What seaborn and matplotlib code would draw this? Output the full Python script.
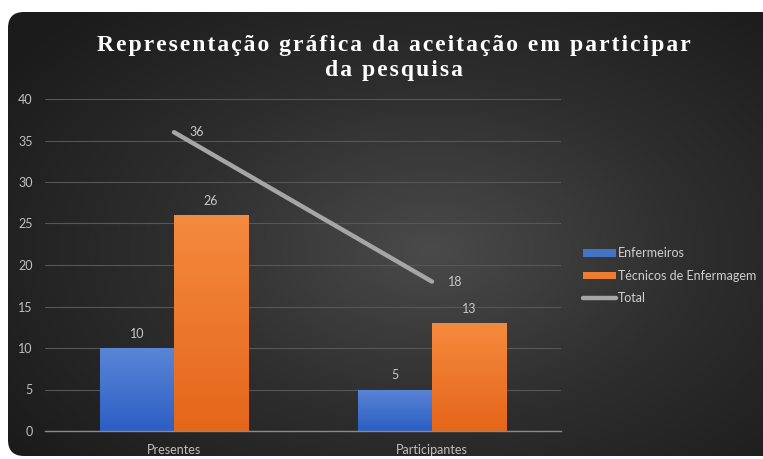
import numpy as np
import pandas as pd
import seaborn as sns
import matplotlib.pyplot as plt
from matplotlib.patches import FancyBboxPatch, Patch
from matplotlib.lines import Line2D
from matplotlib.colors import LinearSegmentedColormap

# === DADOS ===
categorias = ["Presentes", "Participantes"]
enfermeiros = [10, 5]
tecnicos = [26, 13]
total = [36, 18]
series = ["Enfermeiros", "Técnicos de Enfermagem"]
titulo_linhas = ["Representação gráfica da aceitação em participar", "da pesquisa"]

df = pd.DataFrame({
    "Categoria": categorias * 2,
    "Grupo": [series[0]] * len(categorias) + [series[1]] * len(categorias),
    "Valor": enfermeiros + tecnicos,
})

sns.set_style("dark")
plt.rcParams["font.family"] = ["Lato", "DejaVu Sans"]

W, H = 763, 459
fig = plt.figure(figsize=(W / 100, H / 100), dpi=100)
fig.patch.set_facecolor("white")

# fundo escuro com gradiente radial e canto arredondado
bg = fig.add_axes([0, 0, 1, 1], zorder=-2)
bg.set_xlim(0, W)
bg.set_ylim(H, 0)
bg.axis("off")
yy, xx = np.mgrid[0:H, 0:W]
dist = np.sqrt(((xx - 430) / 520) ** 2 + ((yy - 250) / 330) ** 2)
grad = np.clip(1 - dist, 0, 1)
cmap_bg = LinearSegmentedColormap.from_list("bg", ["#1b1b1b", "#2e2e2e", "#4a4a4a"])
img = bg.imshow(grad, cmap=cmap_bg, extent=(0, W, H, 0), aspect="auto")
panel = FancyBboxPatch((8, 12), W + 20, H - 15, boxstyle="round,pad=0,rounding_size=16",
                       transform=bg.transData, facecolor="none", edgecolor="none")
bg.add_patch(panel)
img.set_clip_path(panel)

# eixo principal
ax = fig.add_axes([45 / W, (H - 431) / H, 516 / W, 332 / H])
ax.set_facecolor("none")
sns.barplot(data=df, x="Categoria", y="Valor", hue="Grupo", ax=ax, width=0.574,
            gap=0, palette=["#4472C4", "#ED7D31"], legend=False, saturation=1)

# gradiente nas barras
cores = {0: ("#5a85d6", "#2c5fc4"), 1: ("#f48a3e", "#e5661a")}
for i, cont in enumerate(ax.containers):
    cm = LinearSegmentedColormap.from_list(f"b{i}", [cores[i][1], cores[i][0]])
    for p in cont.patches:
        x0, w, h = p.get_x(), p.get_width(), p.get_height()
        g = np.linspace(0, 1, 100).reshape(-1, 1)
        im = ax.imshow(g, cmap=cm, extent=(x0, x0 + w, 0, h), origin="lower",
                       aspect="auto", zorder=2)
        im.set_clip_path(p)
        p.set_facecolor("none")
        p.set_edgecolor("none")

# linha do total
pos = list(range(len(categorias)))
ax.plot(pos, total, color="#a6a6a6", lw=3.2, solid_capstyle="round", zorder=3)
for x, v in zip(pos, total):
    ax.text(x + 0.06, v, str(v), color="#c8c8c8", fontsize=9, va="center", ha="left", zorder=4)

for cont in ax.containers:
    ax.bar_label(cont, padding=6, color="#c8c8c8", fontsize=9)

ax.set_xlim(-0.5, 1.5)
ax.set_ylim(0, 40)
ax.set_yticks(range(0, 41, 5))
ax.grid(axis="y", color="#575757", lw=0.8)
ax.grid(axis="x", visible=False)
ax.set_axisbelow(True)
for s in ["top", "right", "left"]:
    ax.spines[s].set_visible(False)
ax.spines["bottom"].set_color("#8a8a8a")
ax.spines["bottom"].set_linewidth(1)
ax.tick_params(axis="both", length=0, colors="#c0c0c0", labelsize=9)
ax.tick_params(axis="y", pad=9)
ax.tick_params(axis="x", pad=9)
ax.set_xlabel("")
ax.set_ylabel("")

# legenda
handles = [Patch(facecolor="#4472C4", edgecolor="none"),
           Patch(facecolor="#ED7D31", edgecolor="none"),
           Line2D([0], [0], color="#a6a6a6", lw=3.2, solid_capstyle="round")]
leg = fig.legend(handles, series + ["Total"], loc="upper left",
                 bbox_to_anchor=(572 / W, 1 - 236 / H), frameon=False,
                 fontsize=9, labelcolor="#d0d0d0", handlelength=2.6, handleheight=0.55,
                 handletextpad=0.15, labelspacing=0.85)

# título com espaçamento entre letras
titulo = "\n".join("\u200a".join(linha) for linha in titulo_linhas)
fig.text(394 / W, 1 - 58 / H, titulo, ha="center", va="center", color="white",
         fontsize=17, fontweight="bold", family=["Liberation Serif", "DejaVu Serif"],
         linespacing=1.2)

fig.savefig("out.png", dpi=100)
